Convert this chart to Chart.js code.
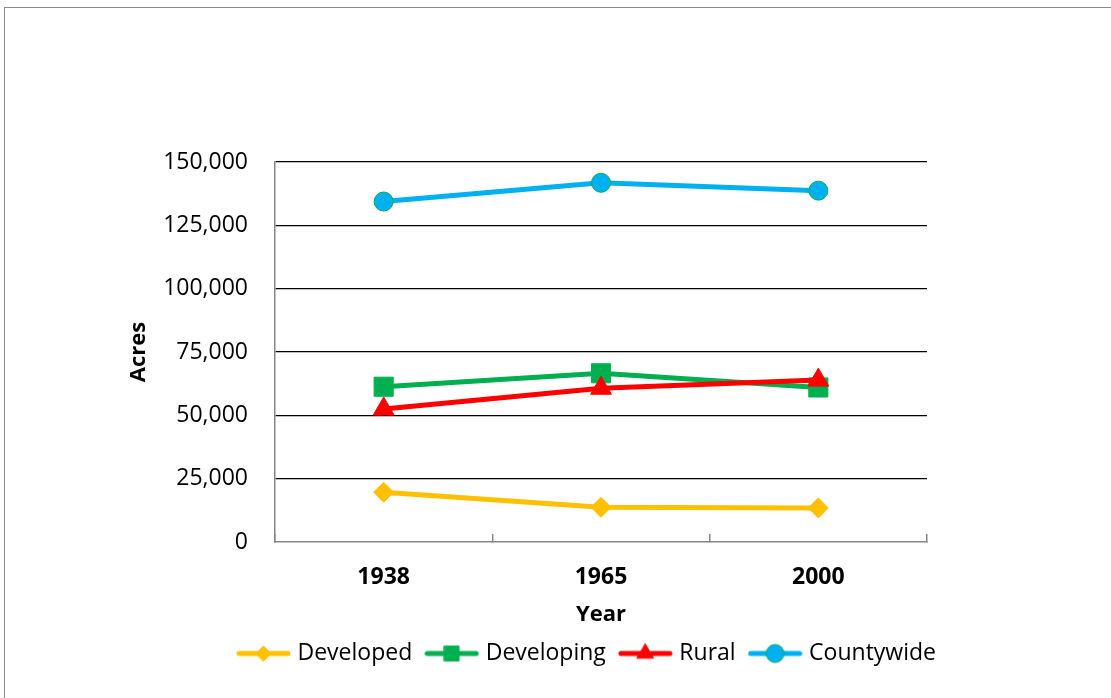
<!DOCTYPE html>
<html>
<head>
<meta charset="utf-8">
<script src="https://cdn.jsdelivr.net/npm/chart.js@4.4.0/dist/chart.umd.min.js"></script>
<style>
html, body { margin: 0; padding: 0; background: #fff; }
#wrap { position: relative; width: 1111px; height: 698px; overflow: hidden; }
#frame { position: absolute; left: 4px; top: 7px; width: 1300px; height: 900px;
         border-left: 1px solid #8c8c8c; border-top: 1px solid #8c8c8c; }
#graph { position: absolute; left: 0; top: 0; }
</style>
</head>
<body>
<div id="wrap">
  <div id="frame"></div>
  <canvas id="graph" width="1111" height="698"></canvas>
</div>
<script>
// acres by land category
const years = ['1938', '1965', '2000'];
const developed = [19650, 13700, 13450];
const developing = [61300, 66600, 61000];
const rural = [52500, 60700, 63900];
const countywide = [134400, 141800, 138700];
const yTicks = [0, 25000, 50000, 75000, 100000, 125000, 150000];

const FONT = "'Open Sans', 'Liberation Sans', sans-serif";

// small line + marker picture used as the legend symbol
function legendIcon(color, style, radius, border) {
    const c = document.createElement('canvas');
    c.width = 55;
    c.height = 24;
    const g = c.getContext('2d');
    g.strokeStyle = color;
    g.lineWidth = 5;
    g.lineCap = 'round';
    g.beginPath();
    g.moveTo(3, 12);
    g.lineTo(52, 12);
    g.stroke();
    g.fillStyle = color;
    g.strokeStyle = border || color;
    g.lineWidth = 1;
    Chart.helpers.drawPoint(g, { pointStyle: style, radius: radius, rotation: 0, borderWidth: 1 }, 27.5, 12);
    return c;
}

// move the legend row so it starts under the plot instead of being centred on the canvas
const legendShift = {
    id: 'legendShift',
    afterLayout(ch) {
        ch.legend.left = 224;
        ch.legend.right = 1111;
        ch.legend.top -= 3;
    }
};

const ctx = document.getElementById('graph').getContext('2d');

const chart = new Chart(ctx, {
    type: 'line',
    data: {
        labels: years,
        datasets: [{
            label: 'Developed',
            data: developed,
            borderColor: '#FFC000',
            backgroundColor: '#FFC000',
            pointStyle: 'rectRot',
            pointRadius: 10,
            pointBorderWidth: 1,
            order: 4,
            icon: legendIcon('#FFC000', 'rectRot', 7.5)
        }, {
            label: 'Developing',
            data: developing,
            borderColor: '#00B050',
            backgroundColor: '#00B050',
            pointStyle: 'rect',
            pointRadius: 13.5,
            pointBorderWidth: 1,
            order: 3,
            icon: legendIcon('#00B050', 'rect', 10.5)
        }, {
            label: 'Rural',
            data: rural,
            borderColor: '#FF0000',
            backgroundColor: '#FF0000',
            pointStyle: 'triangle',
            pointRadius: 12,
            pointBorderWidth: 1,
            order: 2,
            icon: legendIcon('#FF0000', 'triangle', 9.5)
        }, {
            label: 'Countywide',
            data: countywide,
            borderColor: '#00B0F0',
            backgroundColor: '#00B0F0',
            pointBorderColor: '#00B050',
            pointStyle: 'circle',
            pointRadius: 9.5,
            pointBorderWidth: 1,
            order: 1,
            icon: legendIcon('#00B0F0', 'circle', 9, '#00B050')
        }]
    },
    options: {
        responsive: false,
        animation: false,
        elements: {
            line: { borderWidth: 5, tension: 0 }
        },
        layout: {
            padding: { left: 0, right: 184, top: 162, bottom: 20 }
        },
        scales: {
            x: {
                type: 'category',
                offset: true,
                afterFit: function(scale) { scale.height = 86; },
                grid: {
                    offset: true,
                    drawOnChartArea: false,
                    drawTicks: true,
                    tickLength: -8,
                    color: '#868686',
                    lineWidth: 1.5
                },
                border: { color: '#868686', width: 1.5 },
                ticks: {
                    color: '#000',
                    padding: 30,
                    font: { family: FONT, size: 23, weight: 'bold' }
                },
                title: {
                    display: true,
                    text: 'Year',
                    color: '#000',
                    padding: { top: 4, bottom: 0 },
                    font: { family: FONT, size: 22, weight: 'bold' }
                }
            },
            y: {
                min: 0,
                max: 150000,
                afterFit: function(scale) { scale.width = 275; },
                afterBuildTicks: function(scale) {
                    scale.ticks = yTicks.map(v => ({ value: v }));
                },
                grid: {
                    drawTicks: false,
                    color: c => (c.tick && c.tick.value === 0) ? 'rgba(0,0,0,0)' : '#000',
                    lineWidth: 1.3
                },
                border: { color: '#868686', width: 1.5 },
                ticks: {
                    color: '#000',
                    padding: 27,
                    font: { family: FONT, size: 23 },
                    callback: v => v.toLocaleString('en-US')
                },
                title: {
                    display: true,
                    text: 'Acres',
                    color: '#000',
                    padding: { top: 126, bottom: 0 },
                    font: { family: FONT, size: 22, weight: 'bold' }
                }
            }
        },
        plugins: {
            tooltip: { enabled: false },
            legend: {
                position: 'bottom',
                align: 'start',
                labels: {
                    usePointStyle: true,
                    pointStyleWidth: 45,
                    padding: 17,
                    color: '#000',
                    font: { family: FONT, size: 23 },
                    generateLabels: function(ch) {
                        return ch.data.datasets.map((ds, i) => ({
                            text: ds.label,
                            pointStyle: ds.icon,
                            fillStyle: ds.backgroundColor,
                            strokeStyle: ds.borderColor,
                            fontColor: '#000',
                            lineWidth: 0,
                            hidden: false,
                            datasetIndex: i
                        }));
                    }
                }
            }
        }
    },
    plugins: [legendShift]
});
</script>
</body>
</html>
